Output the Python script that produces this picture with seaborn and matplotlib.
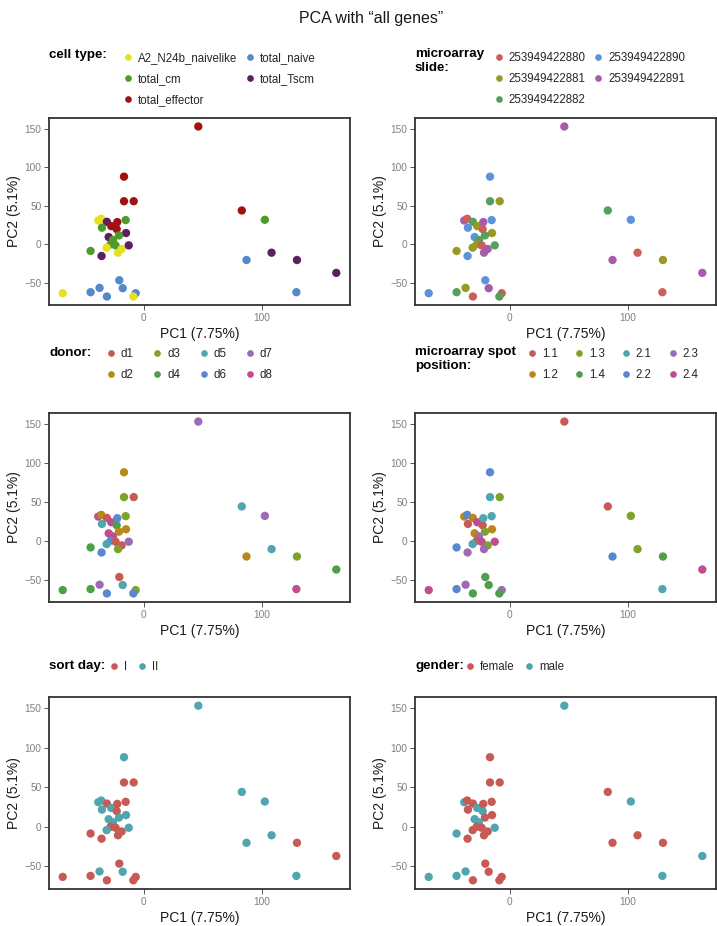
import matplotlib
matplotlib.use('Agg')
import matplotlib.pyplot as plt
import seaborn as sns
import pandas as pd
from matplotlib.lines import Line2D

# PCA coordinates (one entry per sample)
pc1 = [46.2, -16.7, -16.7, -8.5, 83.0, 102.5, 87.0, 108.2, 129.7, 129.2, 163.0,
       -68.6, -45.0, -37.4, -31.2, -20.7, -17.8, -6.8, -8.8, -45.0, -35.7,
       -38.5, -36.0, -31.2, -35.4, -27.5, -22.9, -22.4, -15.3, -15.0, -21.0,
       -29.7, -26.1, -28.0, -31.4, -23.8, -18.7, -21.8, -12.7]
pc2 = [153.0, 87.9, 56.0, 56.0, 44.0, 31.9, -20.3, -10.8, -20.3, -62.1, -37.0,
       -63.4, -62.1, -56.5, -67.7, -46.6, -56.9, -63.4, -67.7, -8.6, -15.1,
       31.0, 33.2, 29.3, 21.6, 23.7, 19.8, 28.9, 31.5, 14.7, 11.6,
       9.5, 5.6, 0.0, -4.3, -1.3, -6.0, -10.8, -1.3]

cell_type = ["total_effector", "total_effector", "total_effector", "total_effector", "total_effector",
             "total_cm", "total_naive", "total_Tscm", "total_Tscm", "total_naive", "total_Tscm",
             "A2_N24b_naivelike", "total_naive", "total_naive", "total_naive", "total_naive",
             "total_naive", "total_naive", "A2_N24b_naivelike", "total_cm", "total_Tscm",
             "A2_N24b_naivelike", "A2_N24b_naivelike", "total_Tscm", "total_cm", "total_effector",
             "total_effector", "total_effector", "total_cm", "total_Tscm", "total_cm",
             "total_Tscm", "total_cm", "total_cm", "A2_N24b_naivelike", "total_cm",
             "A2_N24b_naivelike", "A2_N24b_naivelike", "total_Tscm"]
slide = ["253949422891", "253949422890", "253949422882", "253949422881", "253949422882",
         "253949422890", "253949422891", "253949422880", "253949422881", "253949422880",
         "253949422891", "253949422890", "253949422882", "253949422881", "253949422880",
         "253949422890", "253949422891", "253949422880", "253949422882", "253949422881",
         "253949422890", "253949422891", "253949422880", "253949422882", "253949422890",
         "253949422881", "253949422880", "253949422891", "253949422890", "253949422881",
         "253949422882", "253949422890", "253949422882", "253949422881", "253949422881",
         "253949422880", "253949422891", "253949422891", "253949422882"]
donor = ["d7", "d2", "d3", "d1", "d5", "d7", "d2", "d5", "d3", "d8", "d4", "d4", "d4",
         "d7", "d6", "d1", "d5", "d3", "d6", "d4", "d6", "d8", "d2", "d1", "d5", "d8",
         "d4", "d6", "d3", "d2", "d2", "d8", "d8", "d6", "d5", "d1", "d1", "d3", "d7"]
spot = ["1.1", "2.2", "2.1", "1.3", "1.1", "1.3", "2.2", "1.3", "1.4", "2.1", "2.4",
        "2.4", "2.2", "2.3", "1.4", "1.4", "1.4", "2.3", "1.4", "2.2", "2.3", "1.2",
        "2.2", "1.2", "1.1", "2.4", "1.1", "2.1", "2.1", "1.2", "1.3", "1.2", "2.3",
        "1.1", "2.1", "2.4", "1.3", "2.3", "2.4"]
donor_day = {"d1": "I", "d2": "II", "d3": "I", "d4": "I", "d5": "II", "d6": "I", "d7": "II", "d8": "II"}
donor_gender = {"d1": "female", "d2": "female", "d3": "female", "d4": "male",
                "d5": "female", "d6": "female", "d7": "male", "d8": "male"}

cell_levels = ["A2_N24b_naivelike", "total_cm", "total_effector", "total_naive", "total_Tscm"]
cell_colors = ["#E6E01E", "#4F9A2C", "#A01212", "#5388CB", "#5C1F60"]
slide_levels = ["253949422880", "253949422881", "253949422882", "253949422890", "253949422891"]
slide_colors = ["#CB5F5A", "#999A22", "#55A05A", "#5B93DB", "#A85BAA"]
donor_levels = ["d1", "d2", "d3", "d4", "d5", "d6", "d7", "d8"]
spot_levels = ["1.1", "1.2", "1.3", "1.4", "2.1", "2.2", "2.3", "2.4"]
eight_colors = ["#C75A55", "#B8891A", "#7EA22A", "#4F9E4A", "#4FA6AE", "#5B87D0", "#9C6BB5", "#C04D90"]
day_levels = ["I", "II"]
gender_levels = ["female", "male"]
two_colors = ["#C75A55", "#4FA6AE"]

df = pd.DataFrame({"PC1": pc1, "PC2": pc2, "cell": cell_type, "slide": slide,
                   "donor": donor, "spot": spot})
df["day"] = df["donor"].map(donor_day)
df["gender"] = df["donor"].map(donor_gender)

sns.set_theme(style="white")
plt.rcParams['font.family'] = ['Liberation Sans', 'DejaVu Sans']

W, H = 717, 926
fig = plt.figure(figsize=(W / 100, H / 100), dpi=100)


def fx(px):
    return px / W


def fy(py):
    return 1 - py / H


# column, title, levels, colours, box (left, top, right, bottom),
# legend (title y, first marker x, first row y, ncol, column spacing)
panels = [
    ("cell", "cell type:", cell_levels, cell_colors, (49, 118, 350, 305), (55, 128, 57, 2, 0.8)),
    ("slide", "microarray\nslide:", slide_levels, slide_colors, (415, 118, 716, 305), (55, 499, 57, 2, 0.8)),
    ("donor", "donor:", donor_levels, eight_colors, (49, 413, 350, 602), (353, 111, 353, 4, 1.75)),
    ("spot", "microarray spot\nposition:", spot_levels, eight_colors, (415, 413, 716, 602), (353, 532, 353, 4, 1.55)),
    ("day", "sort day:", day_levels, two_colors, (49, 697, 350, 889), (666, 114, 666, 2, 1.0)),
    ("gender", "gender:", gender_levels, two_colors, (415, 697, 716, 889), (666, 470, 666, 2, 1.0)),
]

fs = 8.3
fs_px = fs * 100 / 72
for col, title, levels, colors, box, leg in panels:
    l, t, r, b = box
    ax = fig.add_axes([fx(l), fy(b), (r - l) / W, (b - t) / H])
    sns.scatterplot(data=df, x="PC1", y="PC2", hue=col, hue_order=levels,
                    palette=colors, s=36, linewidth=0, alpha=1, ax=ax, legend=False)
    ax.set_xlim(-80.2, 174.6)
    ax.set_ylim(-78.7, 164.0)
    ax.set_xticks([0, 100])
    ax.set_yticks([-50, 0, 50, 100, 150])
    ax.set_xticklabels(["0", "100"])
    ax.set_yticklabels(["\u221250", "0", "50", "100", "150"])
    ax.tick_params(axis="both", which="both", bottom=True, left=True, length=3.5,
                   width=0.7, color="#555555", labelsize=7.3, labelcolor="#808080", pad=2)
    for sp in ax.spines.values():
        sp.set_color("#333333")
        sp.set_linewidth(1.3)
    ax.set_xlabel("PC1 (7.75%)", fontsize=10, color="#1a1a1a", labelpad=3)
    ax.set_ylabel("PC2 (5.1%)", fontsize=10, color="#1a1a1a", labelpad=2)
    ax.grid(False)

    title_y, mx, row_y, ncol, cs = leg
    if "\n" in title:
        fig.text(fx(l), fy(title_y - 7), title, fontsize=9.6, fontweight="bold",
                 ha="left", va="top", linespacing=1.25, color="black")
    else:
        fig.text(fx(l), fy(title_y), title, fontsize=9.6, fontweight="bold",
                 ha="left", va="center", color="black")
    handles = [Line2D([], [], marker="o", ls="", color=c, markersize=4.8, markeredgewidth=0)
               for c in colors]
    hl = 0.6
    fig.legend(handles, levels, loc="upper left",
               bbox_to_anchor=(fx(mx - hl * fs_px / 2), fy(row_y - 5)),
               ncol=ncol, frameon=False, fontsize=fs, handlelength=hl,
               handletextpad=0.55, columnspacing=cs, labelspacing=0.8,
               borderpad=0, borderaxespad=0)

fig.text(fx(371), fy(18), "PCA with \u201call genes\u201d", fontsize=11.5,
         ha="center", va="center", color="#1a1a1a")

fig.savefig("out.png", dpi=100)
